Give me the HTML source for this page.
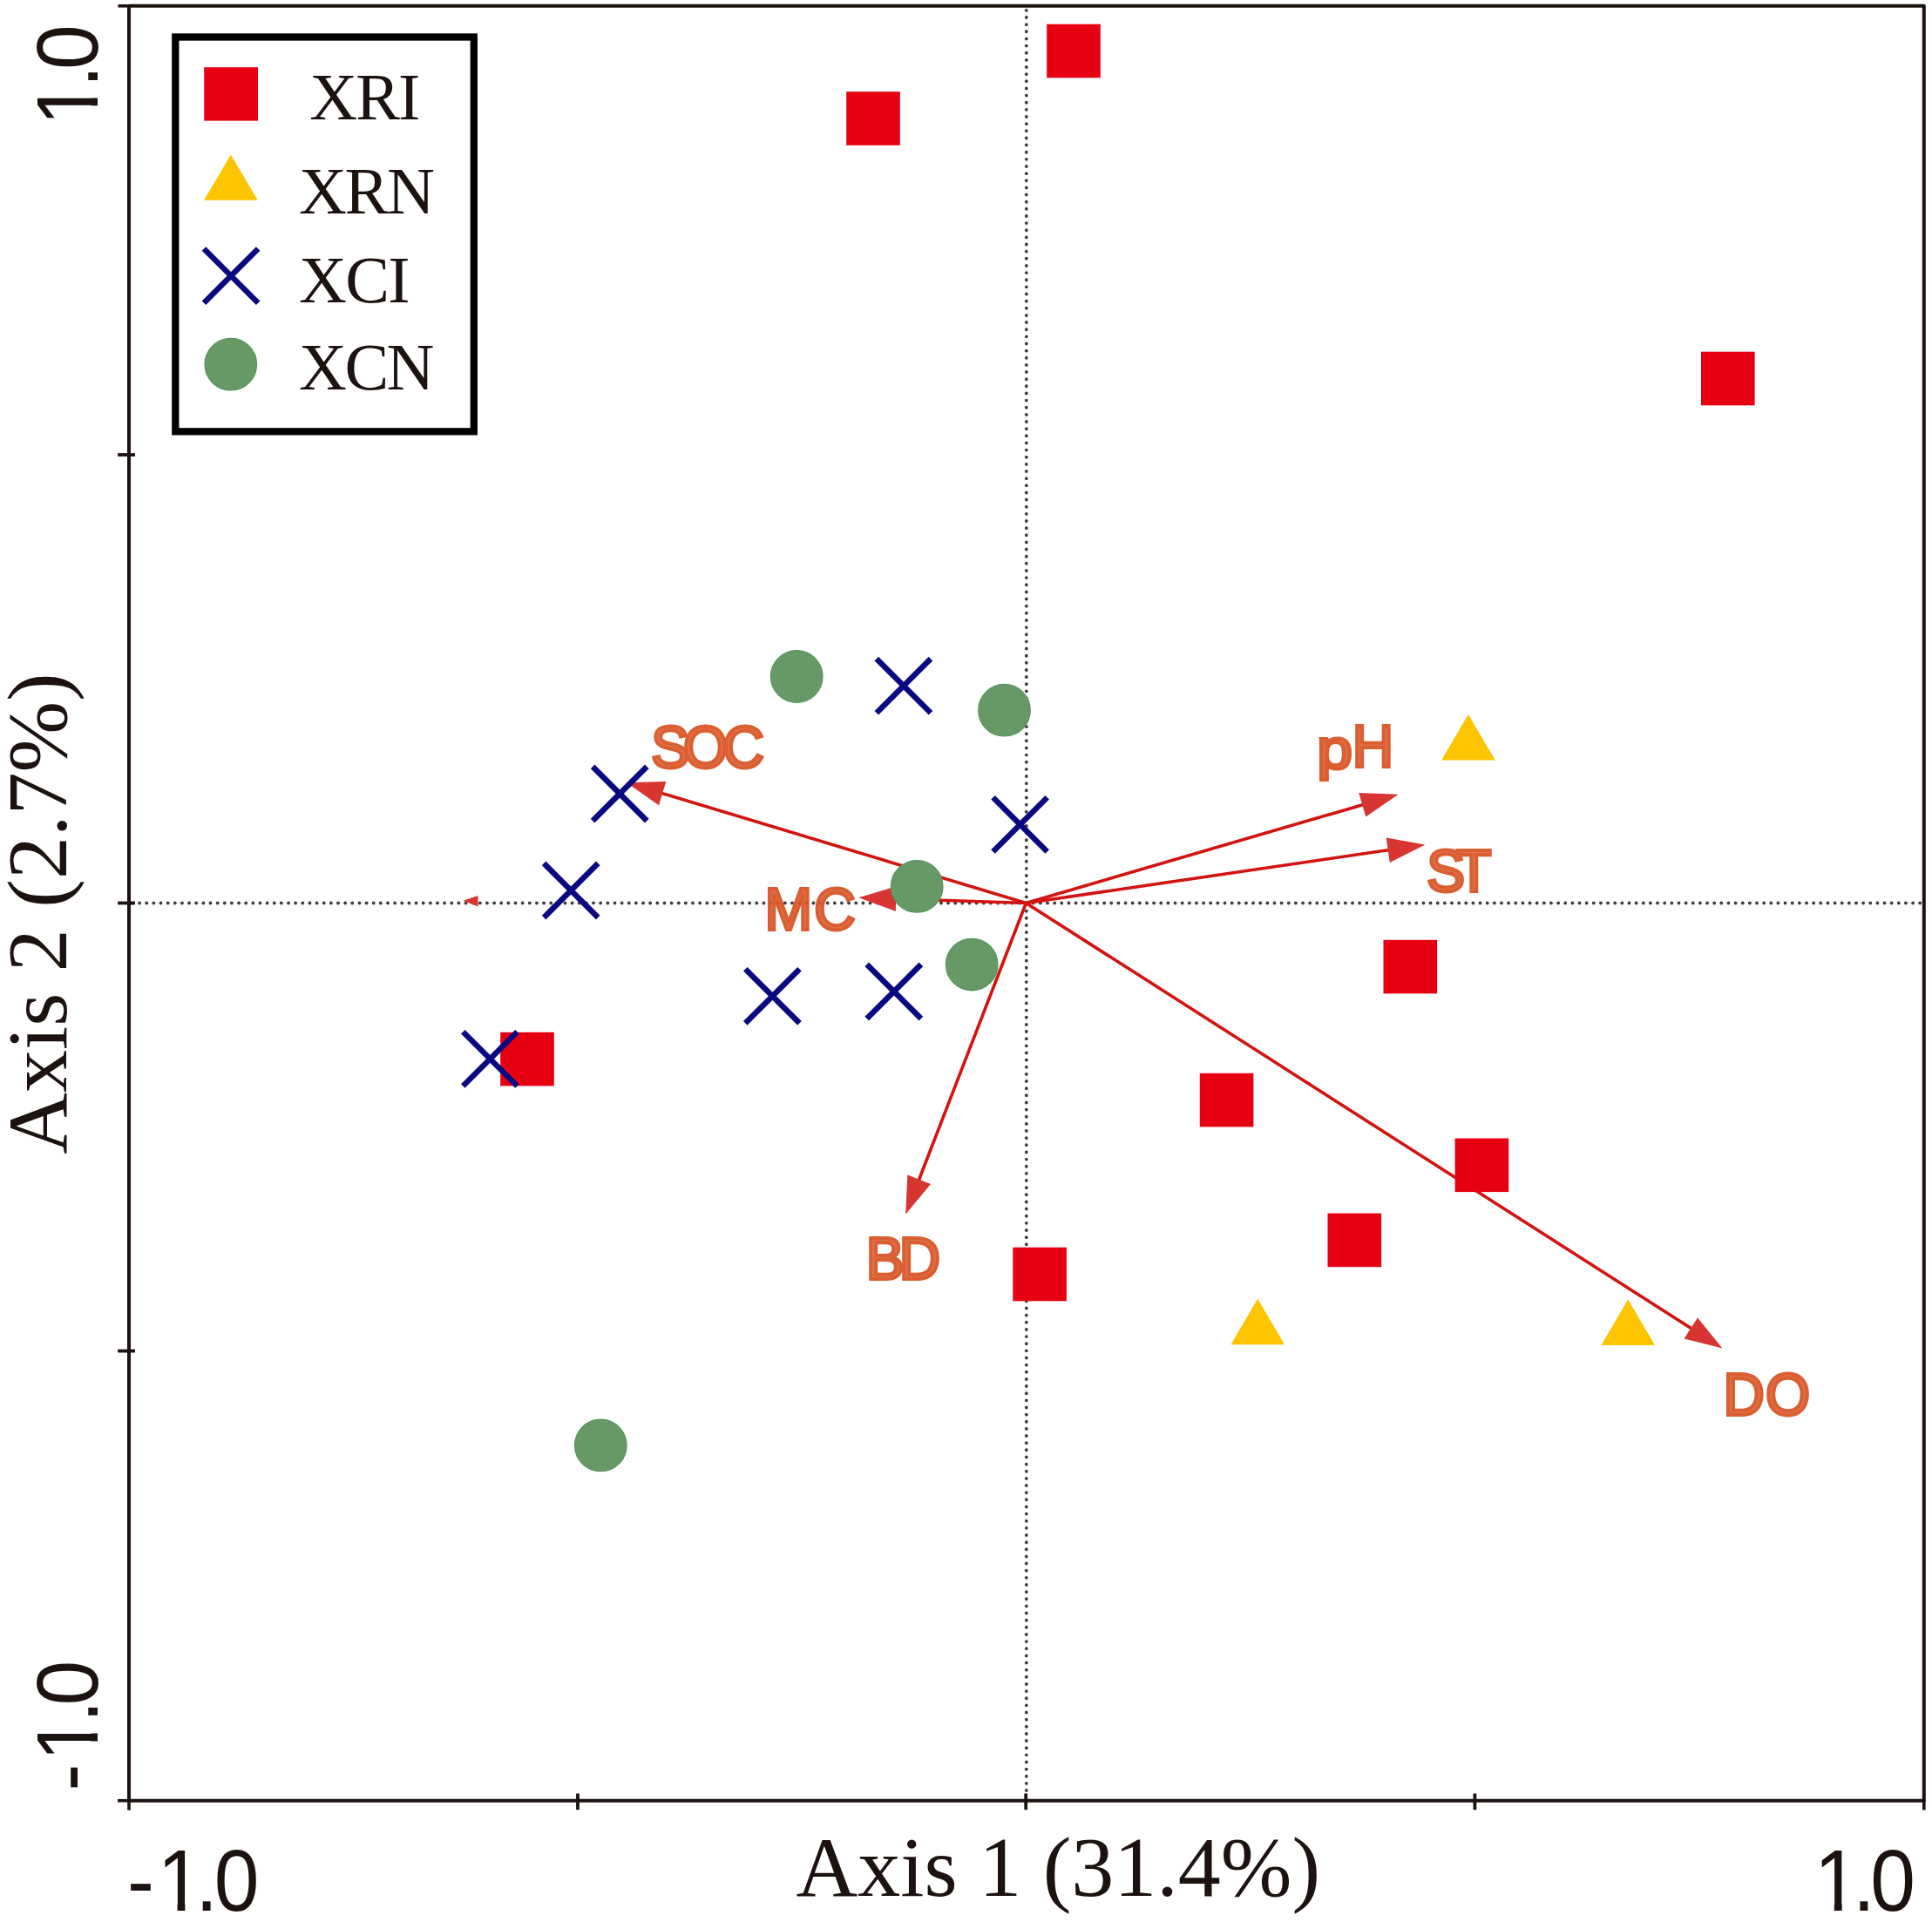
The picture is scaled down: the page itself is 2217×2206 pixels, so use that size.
<!DOCTYPE html>
<html><head><meta charset="utf-8"><title>Ordination biplot</title>
<style>
html,body{margin:0;padding:0;background:#fff;}
body{width:2217px;height:2206px;overflow:hidden;}
svg{display:block;}
.ser{font-family:"Liberation Serif","Times New Roman",serif;fill:#1c1210;}
.san{font-family:"Liberation Sans",Arial,sans-serif;fill:#1c1210;font-size:100px;}
.lab{font-family:"Liberation Sans",Arial,sans-serif;font-weight:normal;fill:#dd643b;font-size:68px;stroke:#d95120;stroke-width:4px;stroke-linejoin:miter;opacity:.92;}
</style></head><body>
<svg width="2217" height="2206" viewBox="0 0 2217 2206">
<rect width="2217" height="2206" fill="#fff"/>
<g stroke="#423d3c" stroke-width="3.9" stroke-dasharray="0.01 8.13" stroke-linecap="round" fill="none">
<line x1="1177.8" y1="11.9" x2="1177.8" y2="2063"/>
<line x1="151.95" y1="1036.5" x2="2205" y2="1036.5"/>
</g>
<g stroke="#1c1210" fill="none" stroke-linecap="butt">
<rect x="148" y="6.8" width="2059.8" height="2059.9" stroke-width="4" stroke-linejoin="round"/>
<g stroke-width="3.6">
<line x1="135.5" y1="6.8" x2="148" y2="6.8"/>
<line x1="135" y1="2066.7" x2="148" y2="2066.7"/>
<line x1="148" y1="2066" x2="148" y2="2077.6"/>
<line x1="2207.8" y1="2066" x2="2207.8" y2="2077.4"/>
</g><g stroke-width="3.8">
<line x1="135.2" y1="522" x2="155" y2="522"/>
<line x1="135.2" y1="1036.5" x2="155" y2="1036.5"/>
<line x1="135.2" y1="1550.6" x2="155" y2="1550.6"/>
<line x1="663" y1="2058.5" x2="663" y2="2077.2"/>
<line x1="1177.2" y1="2058.5" x2="1177.2" y2="2077.2"/>
<line x1="1692.4" y1="2058.5" x2="1692.4" y2="2077.2"/>
</g></g>
<g>
<line x1="1177.4" y1="1036.5" x2="757.3" y2="909.8" stroke="#d3130f" stroke-width="3.6"/>
<polygon fill="#d83431" points="719.0,898.2 764.3,896.9 756.0,924.3"/>
<line x1="1177.4" y1="1036.5" x2="1566.2" y2="923.0" stroke="#d3130f" stroke-width="3.6"/>
<polygon fill="#d83431" points="1604.6,911.8 1567.3,937.6 1559.3,910.1"/>
<line x1="1177.4" y1="1036.5" x2="1595.7" y2="975.3" stroke="#d3130f" stroke-width="3.6"/>
<polygon fill="#d83431" points="1635.3,969.5 1594.8,989.9 1590.7,961.6"/>
<line x1="1177.4" y1="1036.5" x2="1025.3" y2="1031.5" stroke="#d3130f" stroke-width="3.6"/>
<polygon fill="#d83431" points="985.3,1030.2 1028.7,1017.3 1027.8,1045.9"/>
<line x1="1177.4" y1="1036.5" x2="1053.6" y2="1356.5" stroke="#d3130f" stroke-width="3.6"/>
<polygon fill="#d83431" points="1039.2,1393.8 1041.4,1348.5 1068.0,1358.9"/>
<line x1="1177.4" y1="1036.5" x2="1942.8" y2="1526.0" stroke="#d3130f" stroke-width="3.6"/>
<polygon fill="#d83431" points="1976.5,1547.6 1932.6,1536.5 1948.0,1512.4"/>
</g>
<polygon fill="#d83431" points="531.6,1033.8 548.5,1028 548.5,1040.6"/>
<text class="lab" transform="translate(747.30,881.4) scale(0.9647,1)" x="0.00 37.94 85.10" y="0">SOC</text>
<text class="lab" transform="translate(1637.20,1022.6) scale(0.9647,1)" x="0.00 35.35" y="0">ST</text>
<text class="lab" transform="translate(877.40,1067.2) scale(0.9647,1)" x="0.00 58.98" y="0">MC</text>
<text class="lab" transform="translate(993.80,1468.2) scale(0.9647,1)" x="0.00 39.39" y="0">BD</text>
<text class="lab" transform="translate(1977.50,1624.2) scale(0.9647,1)" x="0.00 50.17" y="0">DO</text>
<text class="lab" transform="translate(1511.3,880.3) scale(0.9647,1)"><tspan x="0" y="1.5" style="font-size:65.1px" textLength="42.19" lengthAdjust="spacingAndGlyphs">p</tspan><tspan x="41.88" y="0">H</tspan></text>
<rect x="971.2" y="105.2" width="61.6" height="61.6" fill="#e60012"/>
<rect x="1201.2" y="27.7" width="61.6" height="61.6" fill="#e60012"/>
<rect x="1952.0" y="403.7" width="61.6" height="61.6" fill="#e60012"/>
<rect x="574.2" y="1184.8" width="61.6" height="61.6" fill="#e60012"/>
<rect x="1587.5" y="1078.8" width="61.6" height="61.6" fill="#e60012"/>
<rect x="1376.8" y="1231.8" width="61.6" height="61.6" fill="#e60012"/>
<rect x="1669.6" y="1306.5" width="61.6" height="61.6" fill="#e60012"/>
<rect x="1523.5" y="1392.6" width="61.6" height="61.6" fill="#e60012"/>
<rect x="1162.3" y="1431.7" width="61.6" height="61.6" fill="#e60012"/>
<polygon fill="#fdc400" points="1684.9,820.0 1654.1,872.4 1715.7,872.4"/>
<polygon fill="#fdc400" points="1443.2,1490.8 1412.4,1543.2 1474.0,1543.2"/>
<polygon fill="#fdc400" points="1868.2,1491.6 1837.4,1544 1899.0,1544"/>
<circle cx="914.2" cy="776.5" r="29.8" fill="#669966" stroke="#57925d" stroke-width="1.2"/>
<circle cx="1152.5" cy="815.2" r="29.8" fill="#669966" stroke="#57925d" stroke-width="1.2"/>
<circle cx="1052.2" cy="1017.4" r="29.8" fill="#669966" stroke="#57925d" stroke-width="1.2"/>
<circle cx="1115.2" cy="1107.1" r="29.8" fill="#669966" stroke="#57925d" stroke-width="1.2"/>
<circle cx="689.3" cy="1658.9" r="29.8" fill="#669966" stroke="#57925d" stroke-width="1.2"/>
<path d="M1005.8,756.1L1068.0,818.3M1005.8,818.3L1068.0,756.1" stroke="#0a0a80" stroke-width="6.5" fill="none"/>
<path d="M680.1,879.9L742.3,942.1M680.1,942.1L742.3,879.9" stroke="#0a0a80" stroke-width="6.5" fill="none"/>
<path d="M624.1,990.9L686.3,1053.1M624.1,1053.1L686.3,990.9" stroke="#0a0a80" stroke-width="6.5" fill="none"/>
<path d="M1139.5,915.3L1201.7,977.5M1139.5,977.5L1201.7,915.3" stroke="#0a0a80" stroke-width="6.5" fill="none"/>
<path d="M855.3,1112.2L917.5,1174.4M855.3,1174.4L917.5,1112.2" stroke="#0a0a80" stroke-width="6.5" fill="none"/>
<path d="M994.7,1106.9L1056.9,1169.1M994.7,1169.1L1056.9,1106.9" stroke="#0a0a80" stroke-width="6.5" fill="none"/>
<path d="M531.3,1184.3L593.5,1246.5M531.3,1246.5L593.5,1184.3" stroke="#0a0a80" stroke-width="6.5" fill="none"/>
<rect x="201.3" y="42.5" width="342.5" height="452.8" fill="#fff" stroke="#000" stroke-width="8.3"/>
<rect x="234.2" y="77.2" width="61.8" height="61.4" fill="#e60012"/>
<polygon fill="#fdc400" points="264.8,177.6 234.1,229.8 295.7,229.8"/>
<path d="M234.0,285.5L296.2,347.7M234.0,347.7L296.2,285.5" stroke="#0a0a80" stroke-width="6.5" fill="none"/>
<circle cx="264.8" cy="418.2" r="29.8" fill="#669966" stroke="#57925d" stroke-width="1.2"/>
<text class="ser" font-size="76" letter-spacing="-1.9" x="355.3" y="137">XRI</text>
<text class="ser" font-size="76" letter-spacing="-2.3" x="343" y="244.8">XRN</text>
<text class="ser" font-size="76" letter-spacing="-1.7" x="343" y="346.7">XCI</text>
<text class="ser" font-size="76" letter-spacing="-2.5" x="343" y="446.8">XCN</text>
<text class="ser" font-size="98" x="913.5" y="2176">Axis 1 (31.4%)</text>
<text class="ser" font-size="98" transform="translate(76,1324.8) rotate(-90)">Axis 2 (2.7%)</text>
<clipPath id="c1" clipPathUnits="userSpaceOnUse"><path clip-rule="evenodd" d="M-60,-130H420V50H-60Z M41.20,-9H62.00V3H41.20Z M71.50,-9H91.20V3H71.50Z"/></clipPath>
<text class="san" transform="translate(145.90,2192.8) scale(0.93,1)" clip-path="url(#c1)" x="0.00 37.20 84.30 107.42" y="0">-1.0</text>
<clipPath id="c2" clipPathUnits="userSpaceOnUse"><path clip-rule="evenodd" d="M-60,-130H420V50H-60Z M4.00,-9H24.80V3H4.00Z M34.30,-9H54.00V3H34.30Z"/></clipPath>
<text class="san" transform="translate(2081.80,2192.8) scale(0.93,1)" clip-path="url(#c2)" x="0.00 47.42 69.35" y="0">1.0</text>
<clipPath id="c3" clipPathUnits="userSpaceOnUse"><path clip-rule="evenodd" d="M-60,-130H420V50H-60Z M40.56,-9H61.36V3H40.56Z M70.86,-9H90.56V3H70.86Z"/></clipPath>
<text class="san" transform="translate(112.2,2055.50) rotate(-90) scale(0.93,1)" clip-path="url(#c3)" x="0.00 36.56 84.19 105.48" y="0">-1.0</text>
<clipPath id="c4" clipPathUnits="userSpaceOnUse"><path clip-rule="evenodd" d="M-60,-130H420V50H-60Z M4.00,-9H24.80V3H4.00Z M34.30,-9H54.00V3H34.30Z"/></clipPath>
<text class="san" transform="translate(112.2,144.30) rotate(-90) scale(0.93,1)" clip-path="url(#c4)" x="0.00 47.10 69.03" y="0">1.0</text>
</svg></body></html>
